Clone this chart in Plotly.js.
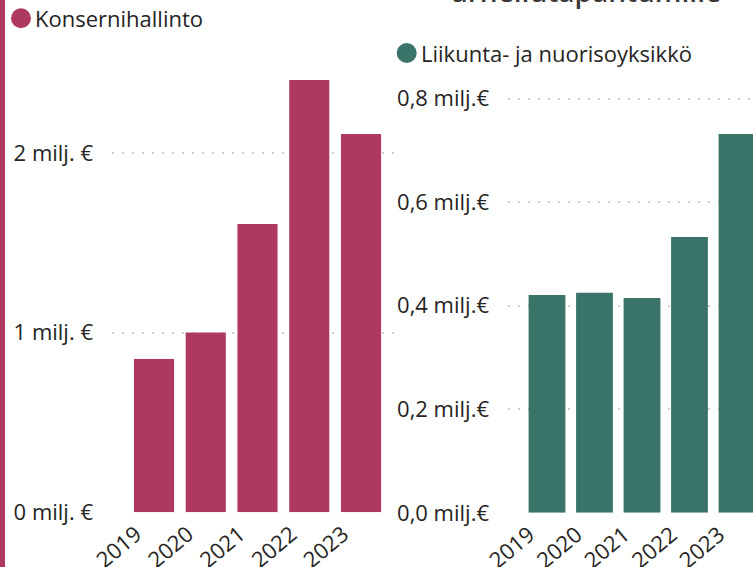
<!DOCTYPE html>
<html>
<head>
<meta charset="utf-8">
<script src="https://cdn.plot.ly/plotly-3.0.1.min.js"></script>
<style>
  html, body { margin: 0; padding: 0; background: #ffffff; }
  #chart { width: 753px; height: 567px; }
</style>
</head>
<body>
<div id="chart"></div>
<script>
// ---- data ----
const years = ['2019', '2020', '2021', '2022', '2023'];
const konsernihallinto = [0.853, 1.00, 1.604, 2.406, 2.105];   // milj. €
const liikuntaJaNuoriso = [0.421, 0.425, 0.415, 0.533, 0.732];  // milj. €
const leftSeriesName = 'Konsernihallinto';
const rightSeriesName = 'Liikunta- ja nuorisoyksikkö';
const leftTickVals = [0, 1, 2];
const leftTickText = ['0 milj. €', '1 milj. €', '2 milj. €'];
const rightTickVals = [0, 0.2, 0.4, 0.6, 0.8];
const rightTickText = ['0,0 milj.€', '0,2 milj.€', '0,4 milj.€', '0,6 milj.€', '0,8 milj.€'];
const titleText = 'urheilutapahtumille';

// ---- styling / layout helpers ----
const W = 753, H = 567;
const px = x => x / W;
const py = y => 1 - y / H;
const magenta = '#AE3862';
const green = '#3A7368';
const textColor = '#252423';
const gridColor = '#CFCFCF';
const font = 'Open Sans, Noto Sans, sans-serif';

const traces = [
  {
    type: 'bar', x: years, y: konsernihallinto, name: leftSeriesName,
    xaxis: 'x', yaxis: 'y', marker: { color: magenta }, showlegend: false,
    hoverinfo: 'x+y'
  },
  {
    type: 'bar', x: years, y: liikuntaJaNuoriso, name: rightSeriesName,
    xaxis: 'x2', yaxis: 'y2', marker: { color: green }, showlegend: false,
    hoverinfo: 'x+y'
  }
];

const tickFont = { family: font, size: 22, color: textColor };

function yAxis(domainBottomPx, domainTopPx, range, vals, text, anchor) {
  return {
    domain: [py(domainBottomPx), py(domainTopPx)],
    range: range,
    anchor: anchor,
    tickvals: vals, ticktext: text,
    tickfont: tickFont,
    showgrid: true, gridcolor: gridColor, gridwidth: 2, griddash: '2px,8px',
    zeroline: false, showline: false, ticks: '',
    ticklabelstandoff: 18,
    fixedrange: true
  };
}
function xAxis(domainLeftPx, domainRightPx, range, anchor) {
  return {
    domain: [px(domainLeftPx), px(domainRightPx)],
    range: range,
    anchor: anchor,
    type: 'category',
    tickfont: tickFont,
    tickangle: -40,
    ticklabelshift: -18,
    ticklabelstandoff: 4,
    showgrid: false, zeroline: false, showline: false, ticks: '',
    fixedrange: true
  };
}

const layout = {
  width: W, height: H,
  margin: { l: 0, r: 0, t: 0, b: 0 },
  paper_bgcolor: '#ffffff', plot_bgcolor: 'rgba(0,0,0,0)',
  showlegend: false,
  bargap: 0.225,
  font: { family: font, color: textColor },
  xaxis: xAxis(112, 395, [-0.812, 4.657], 'y'),
  yaxis: yAxis(512.3, 63.05, [0, 2.5], leftTickVals, leftTickText, 'x'),
  xaxis2: xAxis(508, 753, [-0.821, 4.337], 'y2'),
  yaxis2: yAxis(512.8, 72.9, [0, 0.85], rightTickVals, rightTickText, 'x2'),
  shapes: [
    { type: 'rect', xref: 'paper', yref: 'paper', x0: 0, x1: px(5), y0: 0, y1: 1,
      fillcolor: magenta, line: { width: 0 }, layer: 'above' },
    { type: 'circle', xref: 'paper', yref: 'paper', x0: px(11), x1: px(31), y0: py(28.3), y1: py(8.3),
      fillcolor: magenta, line: { width: 0 } },
    { type: 'circle', xref: 'paper', yref: 'paper', x0: px(396.7), x1: px(416.7), y0: py(63), y1: py(43),
      fillcolor: green, line: { width: 0 } }
  ],
  annotations: [
    { xref: 'paper', yref: 'paper', x: px(33), y: py(18), xanchor: 'left', yanchor: 'middle',
      text: leftSeriesName, showarrow: false, font: { family: font, size: 22, color: textColor } },
    { xref: 'paper', yref: 'paper', x: px(418.5), y: py(53), xanchor: 'left', yanchor: 'middle',
      text: rightSeriesName, showarrow: false, font: { family: font, size: 22, color: textColor } },
    { xref: 'paper', yref: 'paper', x: px(448), y: py(-9), xanchor: 'left', yanchor: 'middle',
      text: titleText, showarrow: false, font: { family: font, size: 28, color: '#3b3a39', weight: 600 } }
  ]
};

Plotly.newPlot('chart', traces, layout, { staticPlot: true, displayModeBar: false });
</script>
</body>
</html>
